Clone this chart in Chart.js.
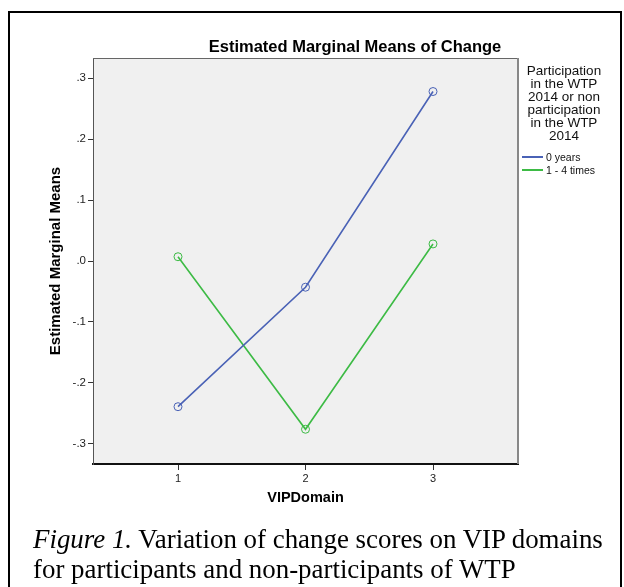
<!DOCTYPE html>
<html>
<head>
<meta charset="utf-8">
<script src="https://cdn.jsdelivr.net/npm/chart.js@4.4.1/dist/chart.umd.min.js"></script>
<style>
  html, body { margin:0; padding:0; background:#fff; }
  body { width:624px; height:587px; position:relative; overflow:hidden; font-family:"Liberation Sans", Arial, sans-serif; }
  #frame { position:absolute; left:8px; top:11px; width:614px; height:600px; border:2px solid #000; box-sizing:border-box; }
  #chart { position:absolute; left:0; top:0; }
  #title { position:absolute; left:155px; width:400px; top:37px; text-align:center; font-weight:bold; font-size:16.5px; line-height:18px; color:#000; }
  #legTitle { position:absolute; left:518px; width:92px; top:65px; text-align:center; font-size:13.5px; line-height:12.9px; color:#111; }
  .legItem { position:absolute; left:522px; font-size:10.5px; line-height:12px; color:#111; white-space:nowrap; }
  .legItem span.sw { display:inline-block; width:21px; height:0; border-top:2px solid; vertical-align:middle; margin-right:3px; position:relative; top:-1px; }
  #caption { position:absolute; left:33px; top:524px; font-family:"Liberation Serif","Times New Roman",serif; font-size:26.9px; line-height:30px; color:#000; white-space:nowrap; }
</style>
</head>
<body>
<div id="frame"></div>
<canvas id="chart" width="624" height="587"></canvas>
<div id="title"></div>
<div id="legTitle"></div>
<div id="legend"></div>
<div id="caption"><i>Figure 1.</i> Variation of change scores on VIP domains<br>for participants and non-participants of WTP</div>
<script>
const chartTitle = 'Estimated Marginal Means of Change';
const categories = [1, 2, 3];
const seriesNames = ['0 years', '1 - 4 times'];
const zeroYears = [-0.239, -0.043, 0.278];
const oneToFourTimes = [0.007, -0.276, 0.028];
const yTickValues = [-0.3, -0.2, -0.1, 0.0, 0.1, 0.2, 0.3];
const yTickLabels = ['-.3', '-.2', '-.1', '.0', '.1', '.2', '.3'];
const xTickLabels = ['1', '2', '3'];
const legendTitleLines = ['Participation', 'in the WTP', '2014 or non', 'participation', 'in the WTP', '2014'];
const seriesColors = ['#4a62b6', '#3dbb45'];

document.getElementById('title').textContent = chartTitle;
document.getElementById('legTitle').innerHTML = legendTitleLines.join('<br>');
const legend = document.getElementById('legend');
seriesNames.forEach((n, i) => {
  const d = document.createElement('div');
  d.className = 'legItem';
  d.style.top = (151 + i * 13) + 'px';
  d.innerHTML = '<span class="sw" style="border-color:' + seriesColors[i] + '"></span>' + n;
  legend.appendChild(d);
});

const seriesData = [zeroYears, oneToFourTimes];
const datasets = seriesNames.map((n, i) => ({
  label: n,
  data: categories.map((c, j) => ({ x: c, y: seriesData[i][j] })),
  borderColor: seriesColors[i],
  backgroundColor: 'rgba(0,0,0,0)',
  pointBackgroundColor: 'rgba(0,0,0,0)',
  pointBorderColor: seriesColors[i],
  pointRadius: 4,
  pointBorderWidth: 1,
  borderWidth: 1.6,
  tension: 0
}));

const plotBg = {
  id: 'plotBg',
  beforeDraw(chart) {
    const { ctx, chartArea: a } = chart;
    ctx.save();
    ctx.fillStyle = '#f0f0f0';
    ctx.fillRect(a.left, a.top, a.right - a.left, a.bottom - a.top);
    ctx.restore();
  },
  afterDraw(chart) {
    const { ctx, chartArea: a } = chart;
    ctx.save();
    ctx.strokeStyle = '#666';
    ctx.lineWidth = 1;
    ctx.beginPath();
    ctx.moveTo(a.left, a.top + 0.5);
    ctx.lineTo(a.right, a.top + 0.5);
    ctx.stroke();
    ctx.strokeStyle = '#888';
    ctx.lineWidth = 2;
    ctx.beginPath();
    ctx.moveTo(a.right, a.top);
    ctx.lineTo(a.right, a.bottom);
    ctx.stroke();
    ctx.restore();
  }
};

new Chart(document.getElementById('chart'), {
  type: 'line',
  data: { datasets },
  plugins: [plotBg],
  options: {
    responsive: false,
    animation: false,
    devicePixelRatio: 1,
    layout: { padding: { left: 0, top: 58, right: 106, bottom: 78 } },
    plugins: { legend: { display: false }, title: { display: false }, tooltip: { enabled: false } },
    scales: {
      x: {
        type: 'linear',
        min: 1 - 2 / 3,
        max: 3 + 2 / 3,
        afterBuildTicks: s => { s.ticks = categories.map(v => ({ value: v })); },
        afterFit: s => { s.height = 45; },
        ticks: {
          callback: (v) => xTickLabels[categories.indexOf(v)] ?? '',
          font: { family: 'Liberation Sans', size: 11 },
          color: '#222',
          padding: 2,
          maxRotation: 0
        },
        grid: { drawOnChartArea: false, drawTicks: true, tickLength: 6, tickColor: '#333' },
        border: { display: true, color: '#111', width: 2 },
        title: { display: true, text: 'VIPDomain', font: { family: 'Liberation Sans', size: 14.5, weight: 'bold' }, color: '#000', padding: { top: 0, bottom: 2 } }
      },
      y: {
        type: 'linear',
        min: -0.333,
        max: 0.333,
        afterBuildTicks: s => { s.ticks = yTickValues.map(v => ({ value: v })); },
        afterFit: s => { s.width = 93; },
        ticks: {
          callback: (v) => { const i = yTickValues.findIndex(t => Math.abs(t - v) < 1e-9); return i >= 0 ? yTickLabels[i] : ''; },
          font: { family: 'Liberation Sans', size: 11.5 },
          color: '#222',
          padding: 2
        },
        grid: { drawOnChartArea: false, drawTicks: true, tickLength: 5, tickColor: '#333' },
        border: { display: true, color: '#555', width: 1 },
        title: { display: true, text: 'Estimated Marginal Means', font: { family: 'Liberation Sans', size: 15, weight: 'bold' }, color: '#000', padding: { top: 47, bottom: 0 } }
      }
    }
  }
});
</script>
</body>
</html>
